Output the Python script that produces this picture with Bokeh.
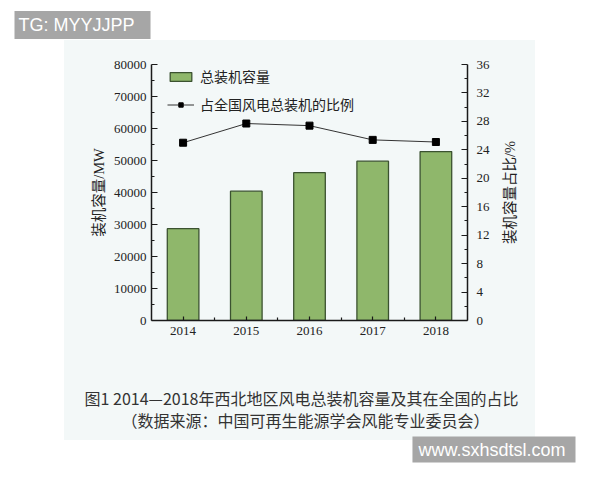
import math
from bokeh.plotting import figure
from bokeh.models import (LinearAxis, Range1d, FixedTicker, Legend, LegendItem, Label, Title)
from bokeh.embed import file_html
from bokeh.resources import INLINE

# data
years = [2014, 2015, 2016, 2017, 2018]
capacity = [28700, 40400, 46200, 49800, 52800]   # MW
share = [25.0, 27.7, 27.4, 25.4, 25.1]           # %

cap_ticks = [0, 10000, 20000, 30000, 40000, 50000, 60000, 70000, 80000]
cap_minor = [5000, 15000, 25000, 35000, 45000, 55000, 65000, 75000]
pct_ticks = [0, 4, 8, 12, 16, 20, 24, 28, 32, 36]
pct_minor = [2, 6, 10, 14, 18, 22, 26, 30, 34]
year_minor = [2014.5, 2015.5, 2016.5, 2017.5]

# trailing ideographic space nudges the centred caption a little to the left
caption = ("图1 2014—2018年西北地区风电总装机容量及其在全国的占比\u3000\n"
           "（数据来源：中国可再生能源学会风能专业委员会）\u3000")

PANEL = "#f3f8f8"
INK = "#1a1a1a"
SERIF_CJK = "'Liberation Serif', 'Noto Sans CJK SC'"

p = figure(width=584, height=464, output_backend="svg", toolbar_location=None,
           x_range=Range1d(2013.5, 2018.5), y_range=Range1d(0, 80000),
           min_border_left=151, min_border_right=117,
           min_border_top=64, min_border_bottom=144)
p.extra_y_ranges = {"pct": Range1d(0, 36)}

# pale panel behind the chart, white page around it
p.border_fill_alpha = 0
p.background_fill_color = PANEL
p.styles = {"background": "linear-gradient(%s, %s) 64px 40px / 471px 400px no-repeat, #ffffff" % (PANEL, PANEL)}
p.outline_line_color = None
p.xgrid.visible = False
p.ygrid.visible = False

bars = p.vbar(x=years, top=capacity, width=0.5, fill_color="#8fb76b",
              line_color="#3b5230", line_width=1.3)
line_r = p.line(years, share, y_range_name="pct", line_color="#333333", line_width=1)
pts = p.scatter(years, share, y_range_name="pct", marker="square", size=7,
                fill_color="black", line_color="black")

right = LinearAxis(y_range_name="pct")
p.add_layout(right, "right")


def style_axis(ax, standoff):
    ax.axis_line_color = INK
    ax.axis_line_width = 1.5
    ax.major_tick_in = 6
    ax.major_tick_out = 0
    ax.minor_tick_in = 3
    ax.minor_tick_out = 0
    ax.major_tick_line_color = INK
    ax.minor_tick_line_color = INK
    ax.major_tick_line_width = 1.2
    ax.minor_tick_line_width = 1.2
    ax.major_label_text_font = "Liberation Serif"
    ax.major_label_text_font_size = "13px"
    ax.major_label_text_color = "#222222"
    ax.major_label_standoff = standoff
    ax.axis_label_text_font = SERIF_CJK
    ax.axis_label_text_font_size = "14.5px"
    ax.axis_label_text_font_style = "normal"
    ax.axis_label_text_color = "#222222"


xa = p.xaxis[0]
style_axis(xa, 6)
xa.ticker = FixedTicker(ticks=years, minor_ticks=year_minor)
xa.major_tick_in = 4
# the figure caption sits under the x axis
xa.axis_label = caption
xa.axis_label_text_font = "Noto Sans CJK SC"
xa.axis_label_text_font_size = "16px"
xa.axis_label_text_color = "#333333"
xa.axis_label_text_line_height = 0.92
xa.axis_label_standoff = 48

ya = p.yaxis[0]
style_axis(ya, 5)
ya.ticker = FixedTicker(ticks=cap_ticks, minor_ticks=cap_minor)
ya.axis_label = "装机容量/MW"
ya.axis_label_standoff = 4

style_axis(right, 9)
right.ticker = FixedTicker(ticks=pct_ticks, minor_ticks=pct_minor)

# right axis title reads bottom to top, like the left one
p.add_layout(Label(x=17, y=128, x_units="screen", y_units="screen",
                   text="装机容量占比/%", angle=math.pi / 2,
                   text_align="center", text_baseline="middle",
                   text_font=SERIF_CJK, text_font_size="14.5px",
                   text_color="#222222"), "right")

legend = Legend(items=[LegendItem(label="总装机容量", renderers=[bars]),
                       LegendItem(label="占全国风电总装机的比例", renderers=[line_r, pts])],
                location=(16, 206))
legend.label_text_font = "Noto Sans CJK SC"
legend.label_text_font_size = "14px"
legend.label_text_color = "#222222"
legend.glyph_width = 27
legend.glyph_height = 11
legend.label_height = 20
legend.label_standoff = 6
legend.spacing = 8
legend.padding = 0
legend.margin = 0
legend.border_line_alpha = 0
legend.background_fill_alpha = 0
p.add_layout(legend)

# watermarks
p.add_layout(Label(x=-137, y=39.5, x_units="screen", y_units="screen",
                   text="TG: MYYJJPP", text_align="left", text_baseline="middle",
                   text_font="Liberation Sans", text_font_size="18px", text_color="white",
                   background_fill_color="#a6a6a6",
                   padding=dict(left=4, right=16, top=4, bottom=4)), "above")
p.add_layout(Title(text="www.sxhsdtsl.com", align="right", offset=-108, standoff=2,
                   vertical_align="middle",
                   text_font="Liberation Sans", text_font_size="18px",
                   text_font_style="normal", text_color="white",
                   background_fill_color="#a6a6a6",
                   padding=dict(left=6, right=10, top=3, bottom=3)), "below")

open("out.html", "w").write(file_html(p, INLINE))
